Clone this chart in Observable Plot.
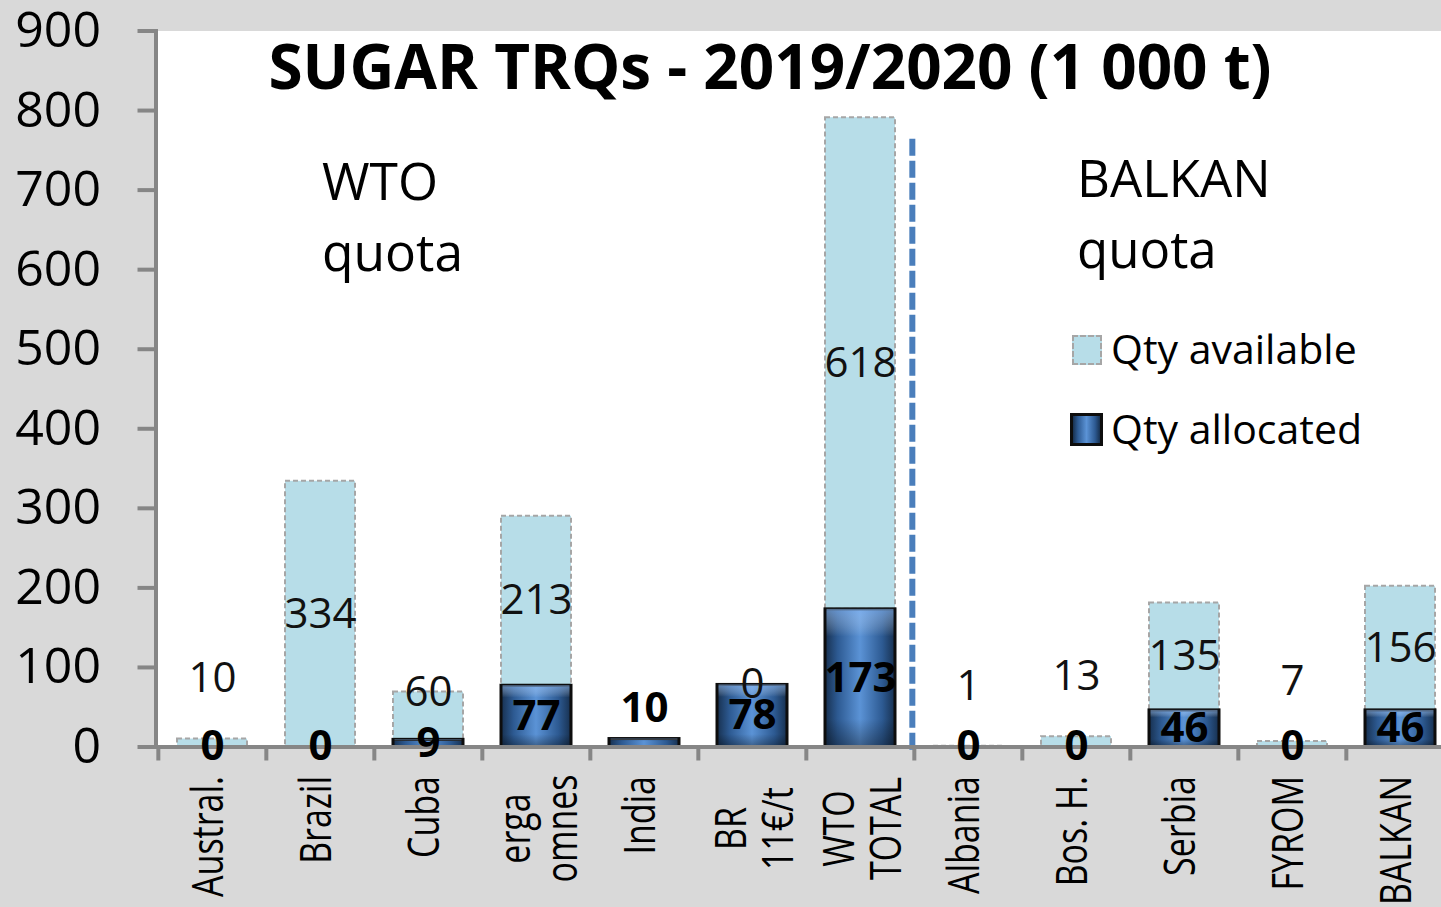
<!DOCTYPE html>
<html>
<head>
<meta charset="utf-8">
<script src="https://cdn.jsdelivr.net/npm/d3@7"></script>
<script src="https://cdn.jsdelivr.net/npm/@observablehq/plot@0.6"></script>
<style>
  html, body { margin: 0; padding: 0; background: #d9d9d9; overflow: hidden; }
  #wrap { position: relative; width: 1441px; height: 907px; background: #d9d9d9; overflow: hidden; font-family: "Open Sans", sans-serif; color: #000; }
  #wrap svg { position: absolute; left: 0; top: 0; }
  .ann { position: absolute; white-space: pre; }
  #title { left: 70px; width: 1400px; top: 34px; text-align: center; font-size: 62px; line-height: 62px; font-weight: 700; }
  #wto { left: 322px; top: 145px; font-size: 51.5px; line-height: 71px; }
  #balkan { left: 1077px; top: 142px; font-size: 51px; line-height: 71px; }
  .legtext { font-size: 41px; line-height: 40px; }
  .sw { position: absolute; box-sizing: border-box; }
</style>
</head>
<body>
<div id="wrap">
  <div id="chart"></div>
  <div class="ann" id="title">SUGAR TRQs - 2019/2020 (1 000 t)</div>
  <div class="ann" id="wto">WTO
quota</div>
  <div class="ann" id="balkan">BALKAN
quota</div>
  <div class="sw" style="left:1072px;top:335px;width:30px;height:30px;background:#b7dde8;border:2px dashed #a6a6a6;"></div>
  <div class="ann legtext" style="left:1111px;top:328px;">Qty available</div>
  <div class="sw" style="left:1070px;top:413px;width:33px;height:33px;border:3px solid #0d0d0d;background:linear-gradient(90deg,#17304f 0%,#2d5a92 18%,#5b93d6 50%,#2d5a92 82%,#17304f 100%);"></div>
  <div class="ann legtext" style="left:1111px;top:408px;">Qty allocated</div>
</div>
<script>
// ---- data ----
const categories = ["Austral.", "Brazil", "Cuba", "erga omnes", "India", "BR 11€/t", "WTO TOTAL", "Albania", "Bos. H.", "Serbia", "FYROM", "BALKAN"];
const tickLabels = ["Austral.", "Brazil", "Cuba", "erga\nomnes", "India", "BR\n11€/t", "WTO\nTOTAL", "Albania", "Bos. H.", "Serbia", "FYROM", "BALKAN"];
const allocated = [0, 0, 9, 77, 10, 78, 173, 0, 0, 46, 0, 46];
const available = [10, 334, 60, 213, 0, 0, 618, 1, 13, 135, 7, 156];
const hiddenAvailableLabels = ["India"];
const yTicks = [0, 100, 200, 300, 400, 500, 600, 700, 800, 900];

const data = categories.map((c, i) => ({
  cat: c,
  label: tickLabels[i],
  alloc: allocated[i],
  avail: available[i],
  total: allocated[i] + available[i]
}));

const bandStep = 1300 / categories.length;
const shown = data.filter(d => !hiddenAvailableLabels.includes(d.cat));
const big = shown.filter(d => d.avail >= 100);
const smallOnAlloc = shown.filter(d => d.avail < 100 && d.alloc > 0);   // label sits on the bar top
const smallOnZero = shown.filter(d => d.avail < 100 && d.alloc === 0);  // label lifted above the zero label
const thinAlone = d => d.alloc > 0 && d.alloc < 20 && d.avail === 0;     // thin segment, nothing above
const allocInside = data.filter(d => !thinAlone(d));
const allocAbove = data.filter(thinAlone);
const singleLine = data.filter(d => !d.label.includes("\n"));
const multiLine = data.filter(d => d.label.includes("\n"));

const svg = Plot.plot({
  width: 1441,
  height: 907,
  marginLeft: 155.5,
  marginTop: 30.5,
  marginRight: 0,
  marginBottom: 160.5,
  style: { background: "transparent", fontFamily: "Open Sans", overflow: "visible" },
  x: { domain: categories, range: [155.5, 155.5 + 1300], padding: 0, axis: null },
  y: { domain: [0, 900], axis: null },
  marks: [
    Plot.frame({ fill: "white", stroke: null }),
    // available (stacked on top)
    Plot.barY(data, { x: "cat", y1: "alloc", y2: "total", fill: "#b7dde8", stroke: "#a6a6a6", strokeWidth: 2, strokeDasharray: "5,3", insetLeft: 19, insetRight: 19 }),
    // allocated
    Plot.barY(data.filter(d => d.alloc > 0), { x: "cat", y1: 0, y2: "alloc", fill: "url(#allocGrad)", stroke: "#0d0d0d", strokeWidth: 3, insetLeft: 19, insetRight: 19 }),
    Plot.barY(data.filter(d => d.alloc > 0), { x: "cat", y1: 0, y2: "alloc", fill: "url(#allocShade)", insetLeft: 20.5, insetRight: 20.5 }),
    // divider
    Plot.ruleX(["Albania"], { x: d => d, dx: -bandStep / 2 - 2, y1: -4, y2: 765, stroke: "#4a7ebb", strokeWidth: 6, strokeDasharray: "17,5" }),
    // axes lines
    Plot.frame({ anchor: "left", stroke: "#868686", strokeWidth: 4 }),
    Plot.frame({ anchor: "bottom", stroke: "#868686", strokeWidth: 4 }),
    Plot.axisY({ ticks: yTicks, tickSize: 18, tickPadding: 37, fontSize: 50, stroke: "#868686", strokeWidth: 4, fill: "#000", label: null }),
    Plot.axisX({ tickSize: 14, tickFormat: () => "", dx: -bandStep / 2, stroke: "#868686", strokeWidth: 4, label: null }),
    // x labels
    Plot.text(singleLine, { x: "cat", text: "label", frameAnchor: "bottom", rotate: -90, textAnchor: "end", dx: 10, dy: 29, fontSize: 34, fill: "#000", className: "xlab" }),
    Plot.text(multiLine, { x: "cat", text: "label", frameAnchor: "bottom", rotate: -90, textAnchor: "middle", lineAnchor: "middle", lineHeight: 1.06, dx: 2, dy: 81.5, fontSize: 34, fill: "#000", className: "xlab" }),
    // value labels: available
    Plot.text(big, { x: "cat", y: d => d.alloc + d.avail / 2, text: d => String(d.avail), fontSize: 42, fill: "#111" }),
    Plot.text(smallOnAlloc, { x: "cat", y: "total", text: d => String(d.avail), fontSize: 42, fill: "#111" }),
    Plot.text(smallOnZero, { x: "cat", y: "total", dy: -60, text: d => String(d.avail), fontSize: 42, fill: "#111" }),
    // value labels: allocated
    Plot.text(allocInside, { x: "cat", y: d => d.alloc / 2, text: d => String(d.alloc), fontSize: 42, fontWeight: "bold", fill: "#000" }),
    Plot.text(allocAbove, { x: "cat", y: "alloc", dy: -30, text: d => String(d.alloc), fontSize: 42, fontWeight: "bold", fill: "#000" })
  ]
});

const defs = d3.select(svg).insert("defs", ":first-child");
const g1 = defs.append("linearGradient").attr("id", "allocGrad").attr("x1", 0).attr("x2", 1).attr("y1", 0).attr("y2", 0);
[[0, "#17304f"], [0.18, "#2d5a92"], [0.5, "#5b93d6"], [0.82, "#2d5a92"], [1, "#17304f"]].forEach(([o, c]) => g1.append("stop").attr("offset", o).attr("stop-color", c));
const g2 = defs.append("linearGradient").attr("id", "allocShade").attr("x1", 0).attr("x2", 0).attr("y1", 0).attr("y2", 1);
[[0, "#8fc0ff", 0.55], [0.2, "#ffffff", 0], [0.8, "#000000", 0], [1, "#000000", 0.35]].forEach(([o, c, a]) => g2.append("stop").attr("offset", o).attr("stop-color", c).attr("stop-opacity", a));

// widen the rotated category labels (original uses a taller, narrower face)
d3.select(svg).selectAll("g.xlab text").attr("transform", function () {
  return (this.getAttribute("transform") || "") + " scale(1,1.3)";
});

document.getElementById("chart").appendChild(svg);
</script>
</body>
</html>
